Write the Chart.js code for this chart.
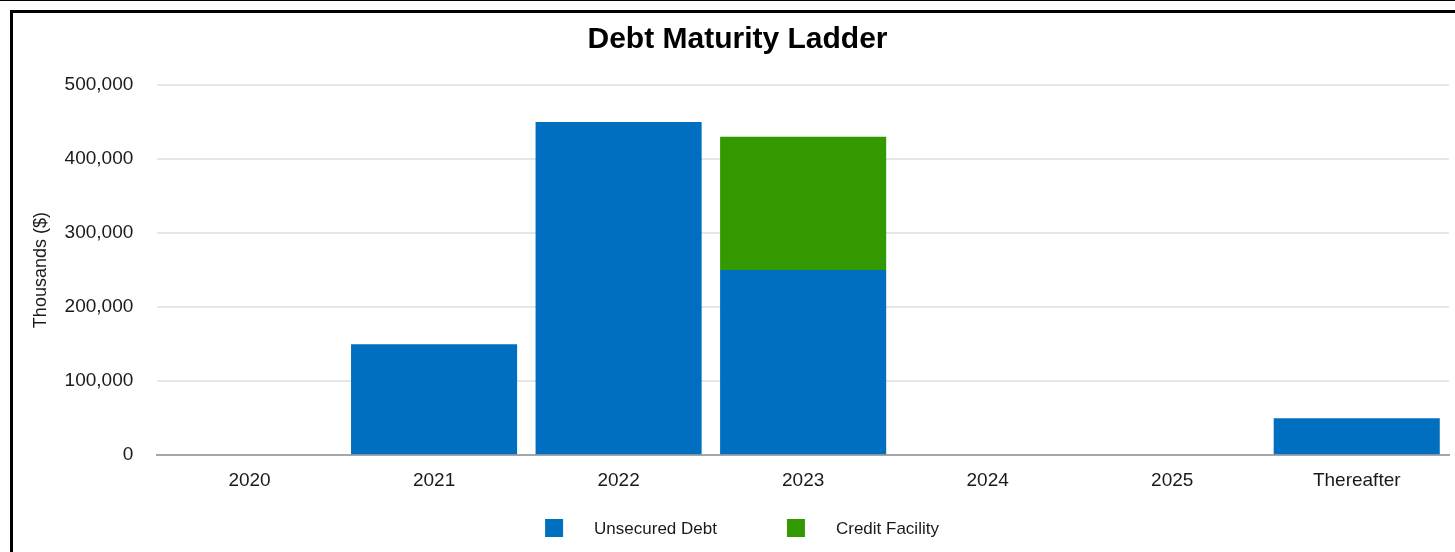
<!DOCTYPE html>
<html>
<head>
<meta charset="utf-8">
<script src="https://cdn.jsdelivr.net/npm/chart.js@4/dist/chart.umd.min.js"></script>
<style>
  html, body { margin: 0; padding: 0; background: #fff; overflow: hidden; }
  body { border-top: 1px solid #000; width: 1455px; height: 551px; position: relative; }
  #box { position: absolute; left: 10px; top: 9px; width: 1450px; height: 600px; border: 3px solid #000; background: #fff; }
  #wrap { position: relative; width: 1450px; height: 539px; }
</style>
</head>
<body>
<div id="box"><div id="wrap"><canvas id="debtChart"></canvas></div></div>
<script>
// Define the data
var years = ["2020", "2021", "2022", "2023", "2024", "2025", "Thereafter"];
var unsecuredDebt = [0, 150000, 450000, 250000, 0, 0, 50000];
var creditFacility = [0, 0, 0, 180000, 0, 0, 0];
var yTicks = [0, 100000, 200000, 300000, 400000, 500000];
// End defining data

var FONT = "'Liberation Sans', Arial, sans-serif";

// legend drawn under the axis, spaced like the original
var bottomLegend = {
  id: 'bottomLegend',
  afterDraw: function(chart) {
    var ctx = chart.ctx;
    var box = 18, gapText = 31, gapItem = 70;
    ctx.save();
    ctx.font = "17px " + FONT;
    var items = chart.data.datasets.map(function(ds) {
      return { text: ds.label, color: ds.backgroundColor, w: ctx.measureText(ds.label).width };
    });
    var total = 0;
    items.forEach(function(it, i) {
      total += box + gapText + it.w + (i > 0 ? gapItem : 0);
    });
    var x = chart.width / 2 - total / 2 + 4;
    var cy = chart.scales.x.bottom + 22;
    ctx.textBaseline = 'middle';
    ctx.textAlign = 'left';
    items.forEach(function(it) {
      ctx.fillStyle = it.color;
      ctx.fillRect(x, cy - box / 2, box, box);
      ctx.fillStyle = '#1a1a1a';
      ctx.fillText(it.text, x + box + gapText, cy + 1);
      x += box + gapText + it.w + gapItem;
    });
    ctx.restore();
  }
};

var ctx = document.getElementById("debtChart").getContext('2d');
var debtChart = new Chart(ctx, {
  type: 'bar',
  data: {
    labels: years,
    datasets: [{
      label: 'Unsecured Debt',
      data: unsecuredDebt,
      backgroundColor: '#006fbf',
      borderWidth: 0
    }, {
      label: 'Credit Facility',
      data: creditFacility,
      backgroundColor: '#339900',
      borderWidth: 0
    }]
  },
  options: {
    responsive: true,
    maintainAspectRatio: false,
    animation: false,
    layout: { padding: { left: 13, right: 14, top: 0, bottom: 46 } },
    datasets: { bar: { categoryPercentage: 0.9, barPercentage: 1 } },
    plugins: {
      legend: { display: false },
      tooltip: { enabled: false },
      title: {
        display: true,
        text: 'Debt Maturity Ladder',
        color: '#000',
        font: { family: FONT, size: 30, weight: 'bold' },
        padding: { top: 9, bottom: 27 }
      }
    },
    scales: {
      x: {
        stacked: true,
        grid: { display: false, drawTicks: false },
        border: { display: true, color: '#a6a6a6', width: 2 },
        ticks: { color: '#1a1a1a', padding: 14, font: { family: FONT, size: 19 } }
      },
      y: {
        stacked: true,
        min: yTicks[0],
        max: yTicks[yTicks.length - 1],
        afterBuildTicks: function(axis) {
          axis.ticks = yTicks.map(function(v) { return { value: v }; });
        },
        grid: { color: '#e6e6e6', lineWidth: 2, drawTicks: true, tickLength: 12, tickColor: 'rgba(0,0,0,0)' },
        border: { display: false },
        ticks: {
          color: '#1a1a1a',
          padding: 12,
          font: { family: FONT, size: 19 },
          callback: function(v) { return v.toLocaleString('en-US'); }
        },
        title: {
          display: true,
          text: 'Thousands ($)',
          color: '#1a1a1a',
          font: { family: FONT, size: 18 },
          padding: { top: 4, bottom: 1 }
        }
      }
    }
  },
  plugins: [bottomLegend]
});
</script>
</body>
</html>
